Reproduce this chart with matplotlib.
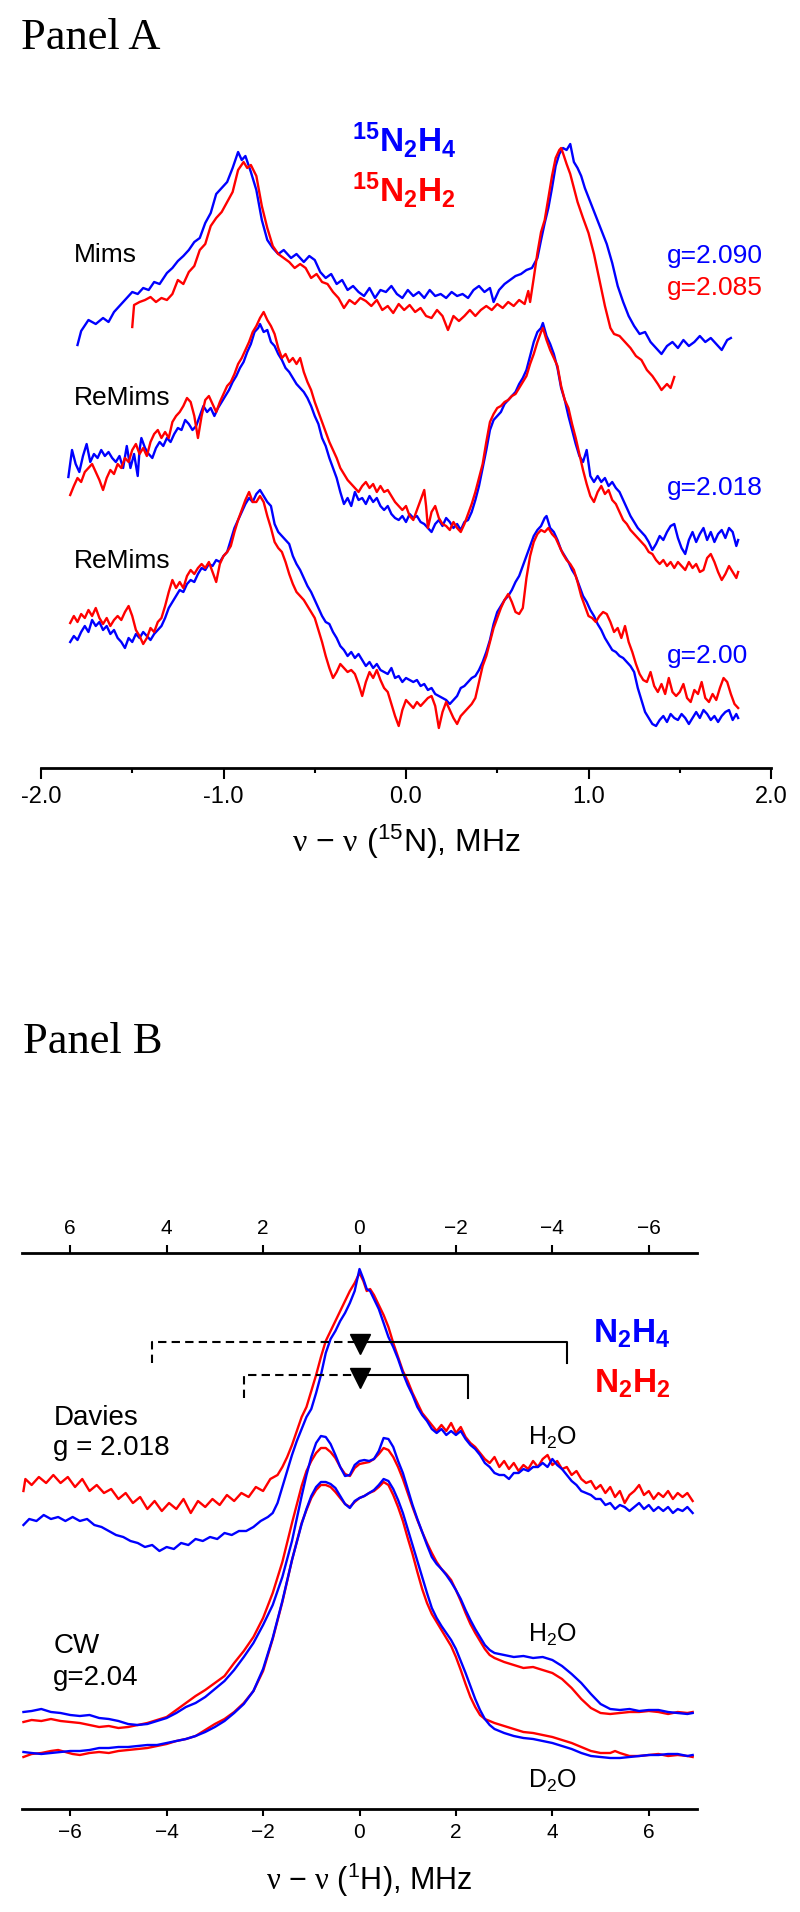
import matplotlib
matplotlib.use("Agg")
import matplotlib.pyplot as plt

plt.rcParams['font.family'] = ['Liberation Sans', 'DejaVu Sans']
plt.rcParams['mathtext.default'] = 'regular'
plt.rcParams['mathtext.fontset'] = 'custom'
plt.rcParams['mathtext.rm'] = 'Liberation Serif'
plt.rcParams['mathtext.it'] = 'Liberation Serif:italic'
plt.rcParams['mathtext.bf'] = 'Liberation Sans:bold'
plt.rcParams['mathtext.sf'] = 'Liberation Sans'

BLUE = '#0000ff'
RED = '#ff0000'

# ---------------- Panel A : 15N ENDOR, (MHz, intensity a.u.) ----------------
MIMS_BLUE = [
    (-1.80, 423), (-1.78, 437), (-1.74, 448), (-1.70, 444), (-1.66, 450), (-1.63, 446), (-1.60, 456), (-1.57, 462),
    (-1.53, 470), (-1.50, 476), (-1.47, 474), (-1.44, 480), (-1.41, 478), (-1.38, 486), (-1.35, 484), (-1.31, 495),
    (-1.28, 500), (-1.25, 507), (-1.22, 512), (-1.19, 518), (-1.16, 526), (-1.13, 530), (-1.10, 545), (-1.07, 555),
    (-1.04, 574), (-1.01, 580), (-0.98, 586), (-0.95, 600), (-0.92, 616), (-0.90, 608), (-0.88, 612), (-0.85, 596),
    (-0.82, 578), (-0.79, 548), (-0.76, 528), (-0.73, 520), (-0.70, 514), (-0.67, 518), (-0.63, 510), (-0.60, 514),
    (-0.56, 506), (-0.53, 512), (-0.50, 508), (-0.47, 496), (-0.44, 490), (-0.41, 494), (-0.38, 484), (-0.35, 488),
    (-0.32, 478), (-0.29, 482), (-0.26, 476), (-0.23, 472), (-0.20, 480), (-0.17, 470), (-0.14, 478), (-0.11, 476),
    (-0.08, 482), (-0.05, 474), (-0.02, 470), (0.01, 478), (0.04, 472), (0.07, 476), (0.10, 470), (0.13, 478),
    (0.16, 472), (0.19, 474), (0.22, 470), (0.25, 476), (0.28, 472), (0.31, 474), (0.34, 470), (0.37, 478),
    (0.40, 482), (0.43, 476), (0.46, 480), (0.48, 466), (0.51, 478), (0.54, 484), (0.57, 488), (0.60, 492),
    (0.63, 494), (0.66, 498), (0.69, 500), (0.72, 510), (0.74, 528), (0.76, 545), (0.78, 560), (0.80, 580),
    (0.82, 602), (0.84, 614), (0.86, 620), (0.88, 618), (0.90, 624), (0.92, 606), (0.94, 600), (0.96, 592),
    (0.98, 580), (1.01, 566), (1.04, 552), (1.07, 538), (1.10, 524), (1.13, 505), (1.16, 482), (1.19, 466),
    (1.22, 452), (1.25, 442), (1.28, 434), (1.31, 436), (1.34, 426), (1.37, 420), (1.40, 414), (1.43, 422),
    (1.46, 426), (1.49, 420), (1.52, 428), (1.55, 422), (1.58, 426), (1.61, 432), (1.64, 426), (1.67, 430),
    (1.70, 424), (1.73, 418), (1.76, 428), (1.78, 430)]

MIMS_RED = [
    (-1.50, 441), (-1.49, 463), (-1.46, 466), (-1.43, 468), (-1.40, 471), (-1.37, 466), (-1.34, 470), (-1.31, 468),
    (-1.28, 474), (-1.25, 488), (-1.22, 484), (-1.19, 496), (-1.16, 502), (-1.13, 518), (-1.10, 524), (-1.07, 542),
    (-1.04, 550), (-1.01, 556), (-0.98, 566), (-0.95, 576), (-0.92, 598), (-0.89, 606), (-0.87, 600), (-0.85, 603),
    (-0.82, 592), (-0.79, 562), (-0.76, 540), (-0.73, 522), (-0.70, 514), (-0.67, 510), (-0.64, 506), (-0.61, 500),
    (-0.58, 504), (-0.55, 500), (-0.52, 490), (-0.49, 494), (-0.46, 486), (-0.43, 484), (-0.40, 476), (-0.37, 470),
    (-0.34, 460), (-0.31, 468), (-0.28, 464), (-0.25, 470), (-0.22, 467), (-0.19, 462), (-0.16, 468), (-0.13, 458),
    (-0.10, 462), (-0.07, 455), (-0.04, 464), (-0.01, 458), (0.02, 463), (0.05, 456), (0.08, 460), (0.11, 452),
    (0.14, 450), (0.17, 458), (0.20, 452), (0.23, 438), (0.26, 452), (0.29, 447), (0.32, 452), (0.35, 458),
    (0.38, 452), (0.41, 458), (0.44, 462), (0.47, 458), (0.50, 464), (0.53, 460), (0.56, 466), (0.59, 462),
    (0.62, 468), (0.65, 464), (0.67, 477), (0.68, 466), (0.70, 490), (0.72, 515), (0.74, 536), (0.76, 548),
    (0.78, 570), (0.80, 592), (0.82, 610), (0.84, 618), (0.85, 620), (0.86, 615), (0.88, 604), (0.90, 594),
    (0.92, 580), (0.94, 566), (0.97, 550), (1.00, 535), (1.03, 514), (1.06, 488), (1.09, 462), (1.12, 440),
    (1.14, 434), (1.17, 432), (1.20, 426), (1.23, 420), (1.26, 412), (1.29, 408), (1.32, 398), (1.35, 392),
    (1.38, 384), (1.40, 378), (1.43, 384), (1.45, 380), (1.47, 391)]

REMIMS1_BLUE = [
    (-1.85, 291), (-1.83, 318), (-1.81, 304), (-1.79, 296), (-1.77, 312), (-1.75, 324), (-1.73, 306), (-1.71, 314),
    (-1.69, 310), (-1.67, 318), (-1.65, 312), (-1.63, 316), (-1.61, 310), (-1.59, 306), (-1.57, 312), (-1.55, 300),
    (-1.53, 322), (-1.51, 300), (-1.49, 314), (-1.47, 292), (-1.46, 318), (-1.45, 330), (-1.43, 320), (-1.41, 314),
    (-1.39, 310), (-1.37, 320), (-1.35, 326), (-1.33, 322), (-1.31, 330), (-1.29, 326), (-1.27, 334), (-1.25, 340),
    (-1.23, 338), (-1.21, 348), (-1.19, 344), (-1.17, 338), (-1.15, 342), (-1.13, 352), (-1.11, 362), (-1.09, 356),
    (-1.07, 360), (-1.05, 352), (-1.03, 360), (-1.01, 366), (-0.99, 372), (-0.97, 378), (-0.95, 386), (-0.93, 392),
    (-0.91, 400), (-0.89, 406), (-0.87, 416), (-0.85, 424), (-0.83, 436), (-0.81, 440), (-0.80, 444), (-0.78, 436),
    (-0.76, 438), (-0.74, 426), (-0.72, 422), (-0.70, 414), (-0.68, 408), (-0.66, 400), (-0.64, 396), (-0.62, 390),
    (-0.60, 384), (-0.58, 380), (-0.56, 376), (-0.54, 370), (-0.52, 362), (-0.50, 352), (-0.48, 344), (-0.46, 330),
    (-0.44, 322), (-0.42, 310), (-0.40, 300), (-0.38, 290), (-0.36, 276), (-0.34, 264), (-0.32, 270), (-0.30, 262),
    (-0.28, 276), (-0.26, 268), (-0.24, 270), (-0.22, 264), (-0.20, 272), (-0.18, 266), (-0.16, 270), (-0.14, 262),
    (-0.12, 258), (-0.10, 262), (-0.08, 254), (-0.06, 250), (-0.04, 248), (-0.02, 252), (0.00, 246), (0.02, 254),
    (0.04, 250), (0.06, 252), (0.08, 246), (0.10, 244), (0.12, 240), (0.14, 236), (0.16, 244), (0.18, 248),
    (0.20, 242), (0.22, 250), (0.24, 246), (0.26, 240), (0.28, 244), (0.30, 238), (0.32, 246), (0.34, 248),
    (0.36, 256), (0.38, 268), (0.40, 282), (0.42, 300), (0.44, 318), (0.46, 338), (0.48, 348), (0.50, 352),
    (0.52, 356), (0.54, 364), (0.56, 368), (0.58, 372), (0.60, 376), (0.62, 384), (0.64, 390), (0.66, 398),
    (0.68, 412), (0.70, 426), (0.72, 436), (0.74, 440), (0.75, 445), (0.77, 432), (0.79, 424), (0.81, 414),
    (0.83, 400), (0.85, 380), (0.87, 368), (0.89, 352), (0.91, 338), (0.93, 324), (0.95, 312), (0.97, 306),
    (0.99, 318), (1.01, 292), (1.03, 286), (1.05, 292), (1.07, 286), (1.09, 290), (1.11, 282), (1.13, 286),
    (1.15, 280), (1.17, 276), (1.19, 268), (1.21, 260), (1.23, 252), (1.25, 246), (1.27, 240), (1.29, 236),
    (1.31, 232), (1.33, 226), (1.35, 218), (1.37, 224), (1.39, 232), (1.41, 228), (1.43, 236), (1.45, 242),
    (1.47, 244), (1.49, 230), (1.51, 220), (1.53, 214), (1.55, 228), (1.57, 236), (1.59, 226), (1.61, 234),
    (1.63, 240), (1.65, 228), (1.67, 236), (1.69, 226), (1.71, 234), (1.73, 238), (1.75, 230), (1.77, 240),
    (1.79, 236), (1.81, 222), (1.82, 228)]

REMIMS1_RED = [
    (-1.84, 273), (-1.82, 282), (-1.80, 290), (-1.78, 286), (-1.76, 296), (-1.74, 300), (-1.72, 304), (-1.70, 296),
    (-1.68, 288), (-1.66, 278), (-1.64, 290), (-1.62, 298), (-1.60, 294), (-1.58, 304), (-1.56, 300), (-1.54, 310),
    (-1.52, 306), (-1.50, 318), (-1.48, 324), (-1.46, 314), (-1.44, 320), (-1.42, 312), (-1.40, 326), (-1.38, 334),
    (-1.36, 338), (-1.34, 330), (-1.32, 336), (-1.30, 330), (-1.28, 346), (-1.26, 352), (-1.24, 356), (-1.22, 362),
    (-1.20, 370), (-1.18, 366), (-1.16, 352), (-1.14, 330), (-1.12, 352), (-1.10, 368), (-1.08, 372), (-1.06, 364),
    (-1.04, 356), (-1.02, 366), (-1.00, 374), (-0.98, 382), (-0.96, 386), (-0.94, 394), (-0.92, 404), (-0.90, 410),
    (-0.88, 418), (-0.86, 426), (-0.84, 436), (-0.82, 442), (-0.80, 450), (-0.78, 456), (-0.76, 448), (-0.74, 442),
    (-0.72, 434), (-0.70, 420), (-0.68, 410), (-0.66, 414), (-0.64, 406), (-0.62, 410), (-0.60, 404), (-0.58, 410),
    (-0.56, 396), (-0.54, 386), (-0.52, 378), (-0.50, 366), (-0.48, 356), (-0.46, 346), (-0.44, 336), (-0.42, 326),
    (-0.40, 318), (-0.38, 310), (-0.36, 300), (-0.34, 294), (-0.32, 288), (-0.30, 284), (-0.28, 280), (-0.26, 276),
    (-0.24, 282), (-0.22, 286), (-0.20, 280), (-0.18, 284), (-0.16, 276), (-0.14, 282), (-0.12, 276), (-0.10, 278),
    (-0.08, 272), (-0.06, 266), (-0.04, 262), (-0.02, 258), (0.00, 262), (0.02, 252), (0.04, 248), (0.06, 258),
    (0.08, 268), (0.10, 278), (0.11, 262), (0.12, 240), (0.14, 256), (0.16, 262), (0.18, 250), (0.20, 244),
    (0.22, 242), (0.24, 238), (0.26, 246), (0.28, 240), (0.30, 236), (0.32, 244), (0.34, 254), (0.36, 264),
    (0.38, 276), (0.40, 290), (0.42, 304), (0.44, 326), (0.46, 346), (0.48, 354), (0.50, 360), (0.52, 362),
    (0.54, 366), (0.56, 368), (0.58, 372), (0.60, 374), (0.62, 380), (0.64, 386), (0.66, 392), (0.68, 404),
    (0.70, 414), (0.72, 426), (0.74, 436), (0.75, 440), (0.77, 428), (0.79, 418), (0.81, 410), (0.83, 402),
    (0.85, 382), (0.87, 368), (0.89, 360), (0.91, 344), (0.93, 330), (0.95, 314), (0.97, 298), (0.99, 284),
    (1.01, 272), (1.03, 266), (1.05, 276), (1.07, 282), (1.09, 274), (1.11, 278), (1.13, 268), (1.15, 264),
    (1.17, 256), (1.19, 248), (1.21, 244), (1.23, 238), (1.25, 234), (1.27, 230), (1.29, 226), (1.31, 222),
    (1.33, 216), (1.35, 214), (1.37, 208), (1.39, 204), (1.41, 208), (1.43, 202), (1.45, 206), (1.47, 200),
    (1.49, 206), (1.51, 202), (1.53, 198), (1.55, 206), (1.57, 200), (1.59, 204), (1.61, 196), (1.63, 198),
    (1.65, 210), (1.67, 214), (1.69, 206), (1.71, 196), (1.73, 188), (1.75, 194), (1.77, 202), (1.79, 196),
    (1.81, 190), (1.82, 196)]

REMIMS2_BLUE = [
    (-1.84, 126), (-1.82, 132), (-1.80, 128), (-1.78, 136), (-1.76, 142), (-1.74, 136), (-1.72, 148), (-1.70, 142),
    (-1.68, 146), (-1.66, 138), (-1.64, 142), (-1.62, 134), (-1.60, 138), (-1.58, 130), (-1.56, 126), (-1.54, 120),
    (-1.52, 130), (-1.50, 126), (-1.48, 134), (-1.46, 130), (-1.44, 136), (-1.42, 132), (-1.40, 128), (-1.38, 134),
    (-1.36, 138), (-1.34, 142), (-1.32, 150), (-1.30, 160), (-1.28, 166), (-1.26, 172), (-1.24, 178), (-1.22, 176),
    (-1.20, 184), (-1.18, 188), (-1.16, 186), (-1.14, 194), (-1.12, 200), (-1.10, 198), (-1.08, 204), (-1.06, 202),
    (-1.04, 208), (-1.02, 206), (-1.00, 212), (-0.98, 216), (-0.96, 228), (-0.94, 240), (-0.92, 248), (-0.90, 256),
    (-0.88, 264), (-0.86, 270), (-0.84, 266), (-0.82, 274), (-0.80, 278), (-0.78, 272), (-0.76, 266), (-0.74, 262),
    (-0.72, 244), (-0.70, 236), (-0.68, 232), (-0.66, 228), (-0.64, 224), (-0.62, 212), (-0.60, 204), (-0.58, 198),
    (-0.56, 190), (-0.54, 182), (-0.52, 176), (-0.50, 168), (-0.48, 160), (-0.46, 152), (-0.44, 146), (-0.42, 144),
    (-0.40, 136), (-0.38, 130), (-0.36, 122), (-0.34, 118), (-0.32, 112), (-0.30, 116), (-0.28, 110), (-0.26, 114),
    (-0.24, 108), (-0.22, 102), (-0.20, 106), (-0.18, 100), (-0.16, 104), (-0.14, 98), (-0.12, 96), (-0.10, 94),
    (-0.08, 100), (-0.06, 90), (-0.04, 92), (-0.02, 86), (0.00, 90), (0.02, 88), (0.04, 86), (0.06, 88),
    (0.08, 82), (0.10, 84), (0.12, 78), (0.14, 80), (0.16, 74), (0.18, 72), (0.20, 70), (0.22, 68),
    (0.24, 64), (0.26, 68), (0.28, 72), (0.30, 80), (0.32, 82), (0.34, 86), (0.36, 90), (0.38, 92),
    (0.40, 98), (0.42, 106), (0.44, 116), (0.46, 128), (0.48, 144), (0.50, 156), (0.52, 162), (0.54, 168),
    (0.56, 172), (0.58, 178), (0.60, 186), (0.62, 192), (0.64, 202), (0.66, 212), (0.68, 222), (0.70, 232),
    (0.72, 238), (0.74, 242), (0.76, 250), (0.77, 252), (0.79, 240), (0.81, 236), (0.83, 228), (0.85, 218),
    (0.87, 212), (0.89, 206), (0.91, 198), (0.93, 192), (0.95, 182), (0.97, 172), (0.99, 166), (1.01, 158),
    (1.03, 152), (1.05, 144), (1.07, 138), (1.09, 130), (1.11, 124), (1.13, 118), (1.15, 116), (1.17, 112),
    (1.19, 110), (1.21, 106), (1.23, 102), (1.25, 96), (1.27, 80), (1.29, 68), (1.31, 56), (1.33, 50),
    (1.35, 44), (1.37, 42), (1.39, 48), (1.41, 52), (1.43, 46), (1.45, 54), (1.47, 50), (1.49, 48),
    (1.51, 54), (1.53, 50), (1.55, 44), (1.57, 50), (1.59, 56), (1.61, 50), (1.63, 58), (1.65, 54),
    (1.67, 48), (1.69, 52), (1.71, 46), (1.73, 52), (1.75, 56), (1.77, 58), (1.79, 48), (1.81, 54),
    (1.82, 50)]

REMIMS2_RED = [
    (-1.84, 145), (-1.82, 152), (-1.80, 146), (-1.78, 154), (-1.76, 150), (-1.74, 158), (-1.72, 152), (-1.70, 160),
    (-1.68, 150), (-1.66, 144), (-1.64, 150), (-1.62, 142), (-1.60, 148), (-1.58, 152), (-1.56, 148), (-1.54, 156),
    (-1.52, 162), (-1.50, 152), (-1.48, 138), (-1.46, 132), (-1.44, 124), (-1.42, 130), (-1.40, 140), (-1.38, 136),
    (-1.36, 146), (-1.34, 150), (-1.32, 162), (-1.30, 176), (-1.28, 188), (-1.26, 180), (-1.24, 186), (-1.22, 180),
    (-1.20, 192), (-1.18, 198), (-1.16, 194), (-1.14, 200), (-1.12, 204), (-1.10, 200), (-1.08, 206), (-1.06, 196),
    (-1.04, 186), (-1.02, 204), (-1.00, 212), (-0.98, 216), (-0.96, 222), (-0.94, 236), (-0.92, 248), (-0.90, 258),
    (-0.88, 268), (-0.86, 276), (-0.84, 266), (-0.82, 266), (-0.80, 272), (-0.78, 266), (-0.76, 252), (-0.74, 240),
    (-0.72, 226), (-0.70, 220), (-0.68, 216), (-0.66, 206), (-0.64, 194), (-0.62, 184), (-0.60, 176), (-0.58, 172),
    (-0.56, 168), (-0.54, 162), (-0.52, 156), (-0.50, 150), (-0.48, 138), (-0.46, 126), (-0.44, 112), (-0.42, 100),
    (-0.40, 90), (-0.38, 96), (-0.36, 104), (-0.34, 100), (-0.32, 96), (-0.30, 98), (-0.28, 94), (-0.26, 84),
    (-0.24, 72), (-0.22, 86), (-0.20, 96), (-0.18, 90), (-0.16, 98), (-0.14, 88), (-0.12, 80), (-0.10, 76),
    (-0.08, 64), (-0.06, 52), (-0.04, 42), (-0.02, 58), (0.00, 68), (0.02, 64), (0.04, 60), (0.06, 66),
    (0.08, 62), (0.10, 66), (0.12, 70), (0.14, 72), (0.16, 62), (0.18, 40), (0.20, 56), (0.22, 66),
    (0.24, 58), (0.26, 50), (0.28, 44), (0.30, 52), (0.32, 56), (0.34, 60), (0.36, 64), (0.38, 70),
    (0.40, 86), (0.42, 102), (0.44, 112), (0.46, 126), (0.48, 140), (0.50, 150), (0.52, 160), (0.54, 168),
    (0.56, 174), (0.58, 166), (0.60, 156), (0.62, 154), (0.64, 160), (0.66, 190), (0.68, 212), (0.70, 226),
    (0.72, 234), (0.74, 238), (0.76, 236), (0.78, 240), (0.80, 234), (0.82, 230), (0.84, 222), (0.86, 214),
    (0.88, 208), (0.90, 204), (0.92, 198), (0.94, 186), (0.96, 172), (0.98, 162), (1.00, 152), (1.02, 150),
    (1.04, 146), (1.06, 152), (1.08, 156), (1.10, 154), (1.12, 146), (1.14, 136), (1.16, 140), (1.18, 130),
    (1.20, 142), (1.22, 126), (1.24, 116), (1.26, 104), (1.28, 94), (1.30, 88), (1.32, 86), (1.34, 96),
    (1.36, 82), (1.38, 76), (1.40, 84), (1.42, 74), (1.44, 90), (1.46, 76), (1.48, 72), (1.50, 76),
    (1.52, 84), (1.54, 70), (1.56, 66), (1.58, 78), (1.60, 74), (1.62, 86), (1.64, 70), (1.66, 66),
    (1.68, 74), (1.70, 68), (1.72, 80), (1.74, 90), (1.76, 86), (1.78, 74), (1.80, 64), (1.82, 60)]

A_TICKS = [-2.0, -1.0, 0.0, 1.0, 2.0]
A_TICKLABELS = ['-2.0', '-1.0', '0.0', '1.0', '2.0']
A_MINOR = [-1.5, -0.5, 0.5, 1.5]

# ---------------- Panel B : 1H ENDOR, (MHz, intensity a.u.) ----------------
DAVIES_RED = [
    (-6.97, 318), (-6.93, 330), (-6.80, 324), (-6.65, 332), (-6.50, 326), (-6.35, 334), (-6.20, 326), (-6.05, 332),
    (-5.90, 322), (-5.75, 330), (-5.60, 318), (-5.45, 324), (-5.30, 316), (-5.15, 320), (-5.00, 310), (-4.85, 316),
    (-4.70, 306), (-4.55, 312), (-4.40, 300), (-4.25, 308), (-4.10, 298), (-3.95, 306), (-3.80, 300), (-3.65, 310),
    (-3.50, 296), (-3.35, 308), (-3.20, 302), (-3.05, 310), (-2.90, 304), (-2.75, 314), (-2.60, 308), (-2.45, 316),
    (-2.30, 312), (-2.15, 322), (-2.00, 318), (-1.85, 330), (-1.70, 334), (-1.60, 342), (-1.50, 352), (-1.40, 364),
    (-1.30, 378), (-1.20, 392), (-1.10, 402), (-1.00, 418), (-0.90, 434), (-0.80, 452), (-0.70, 468), (-0.60, 478),
    (-0.50, 488), (-0.40, 498), (-0.30, 508), (-0.20, 518), (-0.10, 526), (0.00, 536), (0.08, 528), (0.15, 518),
    (0.22, 520), (0.30, 514), (0.40, 504), (0.50, 494), (0.60, 482), (0.70, 466), (0.80, 452), (0.90, 438),
    (1.00, 428), (1.10, 416), (1.20, 406), (1.30, 396), (1.40, 390), (1.50, 384), (1.60, 378), (1.70, 384),
    (1.80, 378), (1.90, 386), (2.00, 376), (2.10, 382), (2.20, 372), (2.30, 366), (2.40, 362), (2.50, 356),
    (2.60, 350), (2.70, 346), (2.80, 352), (2.90, 342), (3.00, 348), (3.10, 340), (3.20, 346), (3.30, 338),
    (3.40, 344), (3.50, 340), (3.60, 348), (3.70, 342), (3.80, 350), (3.90, 354), (4.00, 344), (4.10, 348),
    (4.20, 340), (4.30, 342), (4.40, 334), (4.50, 338), (4.60, 330), (4.70, 326), (4.80, 328), (4.90, 320),
    (5.00, 324), (5.10, 316), (5.20, 322), (5.30, 312), (5.40, 318), (5.50, 306), (5.60, 314), (5.70, 318),
    (5.80, 324), (5.90, 314), (6.00, 318), (6.10, 310), (6.20, 316), (6.30, 312), (6.40, 318), (6.50, 310),
    (6.60, 316), (6.70, 312), (6.80, 316), (6.91, 308)]

DAVIES_BLUE = [
    (-6.97, 284), (-6.85, 290), (-6.70, 288), (-6.55, 294), (-6.40, 290), (-6.25, 292), (-6.10, 288), (-5.95, 292),
    (-5.80, 288), (-5.65, 290), (-5.50, 284), (-5.35, 282), (-5.20, 278), (-5.05, 274), (-4.90, 272), (-4.75, 268),
    (-4.60, 266), (-4.45, 262), (-4.30, 264), (-4.15, 258), (-4.00, 262), (-3.85, 260), (-3.70, 266), (-3.55, 264),
    (-3.40, 270), (-3.25, 268), (-3.10, 272), (-2.95, 270), (-2.80, 276), (-2.65, 274), (-2.50, 278), (-2.35, 278),
    (-2.20, 282), (-2.05, 288), (-1.90, 292), (-1.80, 296), (-1.70, 306), (-1.60, 322), (-1.50, 338), (-1.40, 354),
    (-1.30, 368), (-1.20, 380), (-1.10, 392), (-1.00, 400), (-0.90, 416), (-0.80, 434), (-0.70, 456), (-0.60, 470),
    (-0.50, 478), (-0.40, 488), (-0.30, 496), (-0.20, 506), (-0.10, 518), (0.00, 540), (0.08, 530), (0.15, 520),
    (0.22, 518), (0.30, 510), (0.40, 500), (0.50, 486), (0.60, 472), (0.70, 462), (0.80, 450), (0.90, 436),
    (1.00, 424), (1.10, 414), (1.20, 402), (1.30, 394), (1.40, 388), (1.50, 380), (1.60, 376), (1.70, 380),
    (1.80, 374), (1.90, 378), (2.00, 374), (2.10, 378), (2.20, 370), (2.30, 364), (2.40, 360), (2.50, 354),
    (2.60, 346), (2.70, 342), (2.80, 336), (2.90, 334), (3.00, 334), (3.10, 330), (3.20, 336), (3.30, 336),
    (3.40, 340), (3.50, 338), (3.60, 342), (3.70, 342), (3.80, 346), (3.90, 342), (4.00, 350), (4.10, 344),
    (4.20, 340), (4.30, 334), (4.40, 328), (4.50, 324), (4.60, 318), (4.70, 316), (4.80, 314), (4.90, 310),
    (5.00, 310), (5.10, 304), (5.20, 306), (5.30, 300), (5.40, 304), (5.50, 302), (5.60, 298), (5.70, 302),
    (5.80, 306), (5.90, 300), (6.00, 304), (6.10, 298), (6.20, 302), (6.30, 298), (6.40, 302), (6.50, 296),
    (6.60, 300), (6.70, 298), (6.80, 302), (6.91, 296)]

CW_H2O_BLUE = [
    (-6.97, 97), (-6.80, 98), (-6.60, 100), (-6.40, 97), (-6.20, 96), (-6.00, 94), (-5.80, 93), (-5.60, 94),
    (-5.40, 91), (-5.20, 90), (-5.00, 88), (-4.80, 85), (-4.60, 84), (-4.40, 85), (-4.20, 88), (-4.00, 91),
    (-3.80, 96), (-3.60, 102), (-3.40, 106), (-3.20, 112), (-3.00, 120), (-2.80, 128), (-2.60, 139), (-2.40, 152),
    (-2.20, 166), (-2.00, 184), (-1.80, 204), (-1.60, 232), (-1.40, 268), (-1.20, 313), (-1.10, 334), (-1.00, 352),
    (-0.90, 366), (-0.80, 373), (-0.70, 372), (-0.60, 365), (-0.50, 354), (-0.40, 342), (-0.30, 333), (-0.20, 334),
    (-0.10, 344), (0.00, 348), (0.10, 349), (0.20, 348), (0.30, 350), (0.40, 358), (0.50, 371), (0.60, 370),
    (0.70, 362), (0.80, 348), (0.90, 336), (1.00, 320), (1.10, 304), (1.20, 290), (1.30, 277), (1.40, 264),
    (1.50, 252), (1.60, 245), (1.70, 240), (1.80, 234), (1.90, 227), (2.00, 219), (2.10, 210), (2.20, 199),
    (2.30, 189), (2.40, 180), (2.50, 172), (2.60, 164), (2.70, 159), (2.80, 156), (3.00, 154), (3.20, 152),
    (3.40, 153), (3.60, 151), (3.80, 152), (4.00, 149), (4.20, 143), (4.40, 135), (4.60, 126), (4.80, 115),
    (5.00, 105), (5.20, 100), (5.40, 99), (5.60, 100), (5.80, 98), (6.00, 99), (6.20, 99), (6.40, 97),
    (6.60, 96), (6.80, 95), (6.91, 96)]

CW_H2O_RED = [
    (-6.97, 87), (-6.80, 89), (-6.60, 88), (-6.40, 90), (-6.20, 88), (-6.00, 87), (-5.80, 86), (-5.60, 84),
    (-5.40, 82), (-5.20, 83), (-5.00, 81), (-4.80, 82), (-4.60, 84), (-4.40, 86), (-4.20, 89), (-4.00, 92),
    (-3.80, 99), (-3.60, 106), (-3.40, 113), (-3.20, 119), (-3.00, 126), (-2.80, 133), (-2.60, 146), (-2.40, 158),
    (-2.20, 172), (-2.00, 191), (-1.80, 216), (-1.60, 247), (-1.40, 286), (-1.20, 323), (-1.10, 338), (-1.00, 348),
    (-0.90, 356), (-0.80, 361), (-0.70, 361), (-0.60, 357), (-0.50, 351), (-0.40, 342), (-0.30, 335), (-0.20, 333),
    (-0.10, 341), (0.00, 345), (0.10, 346), (0.20, 347), (0.30, 350), (0.40, 355), (0.50, 361), (0.60, 359),
    (0.70, 352), (0.80, 342), (0.90, 330), (1.00, 316), (1.10, 302), (1.20, 289), (1.30, 277), (1.40, 266),
    (1.50, 256), (1.60, 247), (1.70, 240), (1.80, 235), (1.90, 229), (2.00, 219), (2.10, 208), (2.20, 196),
    (2.30, 185), (2.40, 176), (2.50, 168), (2.60, 160), (2.70, 154), (2.80, 151), (3.00, 147), (3.20, 144),
    (3.40, 141), (3.60, 142), (3.80, 139), (4.00, 136), (4.20, 130), (4.40, 121), (4.60, 110), (4.80, 101),
    (5.00, 96), (5.20, 95), (5.40, 96), (5.60, 97), (5.80, 97), (6.00, 98), (6.20, 97), (6.40, 95),
    (6.60, 97), (6.80, 96), (6.91, 97)]

CW_D2O_BLUE = [
    (-6.97, 57), (-6.80, 56), (-6.60, 55), (-6.40, 56), (-6.20, 57), (-6.00, 58), (-5.80, 58), (-5.60, 59),
    (-5.40, 61), (-5.20, 61), (-5.00, 62), (-4.80, 62), (-4.60, 63), (-4.40, 64), (-4.20, 64), (-4.00, 66),
    (-3.80, 68), (-3.60, 70), (-3.40, 73), (-3.20, 77), (-3.00, 82), (-2.80, 88), (-2.60, 96), (-2.40, 105),
    (-2.20, 118), (-2.00, 140), (-1.80, 171), (-1.60, 208), (-1.40, 249), (-1.20, 285), (-1.10, 300), (-1.00, 313),
    (-0.90, 322), (-0.80, 327), (-0.70, 327), (-0.60, 325), (-0.50, 321), (-0.40, 313), (-0.30, 305), (-0.20, 301),
    (-0.10, 308), (0.00, 311), (0.10, 313), (0.20, 316), (0.30, 319), (0.40, 324), (0.50, 330), (0.60, 328),
    (0.70, 320), (0.80, 309), (0.90, 296), (1.00, 280), (1.10, 264), (1.20, 248), (1.30, 232), (1.40, 216),
    (1.50, 201), (1.60, 191), (1.70, 183), (1.80, 176), (1.90, 169), (2.00, 160), (2.10, 148), (2.20, 136),
    (2.30, 123), (2.40, 110), (2.50, 99), (2.60, 90), (2.70, 84), (2.80, 80), (3.00, 76), (3.20, 73),
    (3.40, 71), (3.60, 70), (3.80, 68), (4.00, 66), (4.20, 63), (4.40, 60), (4.60, 56), (4.80, 53),
    (5.00, 52), (5.20, 51), (5.40, 51), (5.60, 52), (5.80, 53), (6.00, 54), (6.20, 54), (6.40, 55),
    (6.60, 55), (6.80, 53), (6.91, 54)]

CW_D2O_RED = [
    (-6.97, 52), (-6.80, 55), (-6.60, 56), (-6.40, 58), (-6.25, 59), (-6.10, 57), (-5.95, 55), (-5.80, 54),
    (-5.60, 56), (-5.40, 57), (-5.20, 56), (-5.00, 58), (-4.80, 59), (-4.60, 60), (-4.40, 61), (-4.20, 63),
    (-4.00, 65), (-3.80, 68), (-3.60, 70), (-3.40, 73), (-3.20, 79), (-3.00, 85), (-2.80, 90), (-2.60, 97),
    (-2.40, 106), (-2.20, 118), (-2.00, 138), (-1.80, 170), (-1.60, 207), (-1.40, 249), (-1.20, 286), (-1.10, 299),
    (-1.00, 311), (-0.90, 319), (-0.80, 324), (-0.70, 324), (-0.60, 322), (-0.50, 317), (-0.40, 311), (-0.30, 305),
    (-0.20, 302), (-0.10, 307), (0.00, 311), (0.10, 313), (0.20, 316), (0.30, 318), (0.40, 322), (0.50, 327),
    (0.60, 324), (0.70, 314), (0.80, 302), (0.90, 288), (1.00, 271), (1.10, 255), (1.20, 237), (1.30, 220),
    (1.40, 206), (1.50, 195), (1.60, 187), (1.70, 179), (1.80, 171), (1.90, 163), (2.00, 152), (2.10, 139),
    (2.20, 125), (2.30, 112), (2.40, 102), (2.50, 94), (2.60, 90), (2.70, 88), (2.80, 86), (3.00, 83),
    (3.20, 80), (3.40, 77), (3.60, 76), (3.80, 74), (4.00, 72), (4.20, 69), (4.40, 66), (4.60, 62),
    (4.80, 58), (5.00, 56), (5.20, 56), (5.30, 58), (5.40, 56), (5.60, 53), (5.80, 53), (6.00, 54),
    (6.20, 55), (6.40, 53), (6.60, 54), (6.80, 53), (6.91, 52)]

# hyperfine splitting markers (left end, right end, level)
SPLIT_LEFT = [-4.3, -2.4]
SPLIT_RIGHT = [4.3, 2.25]
SPLIT_LEVEL = [467, 434]
SPLIT_DROP = [21, 23]
MARKER_LEVEL = [465, 431]

B_TICKS = [-6, -4, -2, 0, 2, 4, 6]
B_TICKLABELS = ['\u22126', '\u22124', '\u22122', '0', '2', '4', '6']
B_TOP_TICKS = [6, 4, 2, 0, -2, -4, -6]
B_TOP_TICKLABELS = ['6', '4', '2', '0', '\u22122', '\u22124', '\u22126']


def xy(trace):
    return [p[0] for p in trace], [p[1] for p in trace]


W, H = 800, 1912
fig = plt.figure(figsize=(W / 100, H / 100), dpi=100)


def box(left, top, right, bottom):
    return [left / W, 1 - bottom / H, (right - left) / W, (bottom - top) / H]


# ---------------- Panel A ----------------
ax_a = fig.add_axes(box(41, 100, 771, 768))
for trace, col in [(MIMS_BLUE, BLUE), (MIMS_RED, RED), (REMIMS1_BLUE, BLUE),
                   (REMIMS1_RED, RED), (REMIMS2_BLUE, BLUE), (REMIMS2_RED, RED)]:
    ax_a.plot(*xy(trace), color=col, lw=1.7)

ax_a.set_xlim(-2, 2)
ax_a.set_ylim(0, 668)
for s in ['top', 'left', 'right']:
    ax_a.spines[s].set_visible(False)
ax_a.spines['bottom'].set_linewidth(2)
ax_a.set_yticks([])
ax_a.set_xticks(A_TICKS)
ax_a.set_xticklabels(A_TICKLABELS)
ax_a.set_xticks(A_MINOR, minor=True)
ax_a.tick_params(axis='x', which='major', direction='out', length=8, width=1.5, labelsize=17, pad=5)
ax_a.tick_params(axis='x', which='minor', direction='out', length=3.6, width=1.5)

ax_a.text(0.0, -84, '$\\mathrm{\\nu}$ \u2212 $\\mathrm{\\nu}$ ($^{15}$N), MHz',
          ha='center', va='baseline', fontsize=23)
ax_a.text(-0.01, 616, '$^{15}$N$_2$H$_4$', color=BLUE, fontsize=24, fontweight='bold', ha='center', va='baseline')
ax_a.text(-0.01, 566, '$^{15}$N$_2$H$_2$', color=RED, fontsize=24, fontweight='bold', ha='center', va='baseline')
ax_a.text(-1.82, 506, 'Mims', fontsize=19, va='baseline')
ax_a.text(1.43, 505, 'g=2.090', color=BLUE, fontsize=19, va='baseline')
ax_a.text(1.43, 473, 'g=2.085', color=RED, fontsize=19, va='baseline')
ax_a.text(-1.82, 363, 'ReMims', fontsize=19, va='baseline')
ax_a.text(1.43, 273, 'g=2.018', color=BLUE, fontsize=19, va='baseline')
ax_a.text(-1.82, 200, 'ReMims', fontsize=19, va='baseline')
ax_a.text(1.43, 105, 'g=2.00', color=BLUE, fontsize=19, va='baseline')

fig.text(21 / W, 1 - 49 / H, 'Panel A', family='Liberation Serif', fontsize=32, va='baseline')

# ---------------- Panel B ----------------
ax_b = fig.add_axes(box(22, 1253, 697, 1809))
for trace, col in [(DAVIES_RED, RED), (DAVIES_BLUE, BLUE), (CW_H2O_RED, RED),
                   (CW_H2O_BLUE, BLUE), (CW_D2O_RED, RED), (CW_D2O_BLUE, BLUE)]:
    ax_b.plot(*xy(trace), color=col, lw=1.7)

for left, right, level, drop in zip(SPLIT_LEFT, SPLIT_RIGHT, SPLIT_LEVEL, SPLIT_DROP):
    ax_b.plot([left, left, 0], [level - drop, level, level], color='black', lw=1.5, ls=(0, (4, 2.5)))
    ax_b.plot([0, right, right], [level, level, level - drop], color='black', lw=1.5)
ax_b.plot([0] * len(MARKER_LEVEL), MARKER_LEVEL, 'v', color='black', ms=14, ls='none')

ax_b.set_xlim(-7, 7)
ax_b.set_ylim(0, 556)
for s in ['top', 'left', 'right']:
    ax_b.spines[s].set_visible(False)
ax_b.spines['bottom'].set_linewidth(2)
ax_b.set_yticks([])
ax_b.set_xticks(B_TICKS)
ax_b.set_xticklabels(B_TICKLABELS)
ax_b.tick_params(axis='x', direction='out', length=5, width=1.5, labelsize=15, pad=5)

ax_top = ax_b.twiny()
ax_top.set_xlim(7, -7)
for s in ['bottom', 'left', 'right']:
    ax_top.spines[s].set_visible(False)
ax_top.spines['top'].set_linewidth(2)
ax_top.set_xticks(B_TOP_TICKS)
ax_top.set_xticklabels(B_TOP_TICKLABELS)
ax_top.tick_params(axis='x', direction='out', length=6, width=1.5, labelsize=15, pad=5)

ax_b.text(0.2, -81, '$\\mathrm{\\nu}$ \u2212 $\\mathrm{\\nu}$ ($^{1}$H), MHz',
          ha='center', va='baseline', fontsize=22)
ax_b.text(5.65, 466, 'N$_2$H$_4$', color=BLUE, fontsize=24, fontweight='bold', ha='center', va='baseline')
ax_b.text(5.65, 416, 'N$_2$H$_2$', color=RED, fontsize=24, fontweight='bold', ha='center', va='baseline')
ax_b.text(-6.35, 384, 'Davies', fontsize=20, va='baseline')
ax_b.text(-6.35, 354, 'g = 2.018', fontsize=20, va='baseline')
ax_b.text(3.49, 364, 'H$_2$O', fontsize=18, va='baseline')
ax_b.text(-6.35, 156, 'CW', fontsize=20, va='baseline')
ax_b.text(-6.35, 124, 'g=2.04', fontsize=20, va='baseline')
ax_b.text(3.49, 167, 'H$_2$O', fontsize=18, va='baseline')
ax_b.text(3.49, 21, 'D$_2$O', fontsize=18, va='baseline')

fig.text(23 / W, 1 - 1053 / H, 'Panel B', family='Liberation Serif', fontsize=32, va='baseline')

fig.savefig('out.png', dpi=100)
